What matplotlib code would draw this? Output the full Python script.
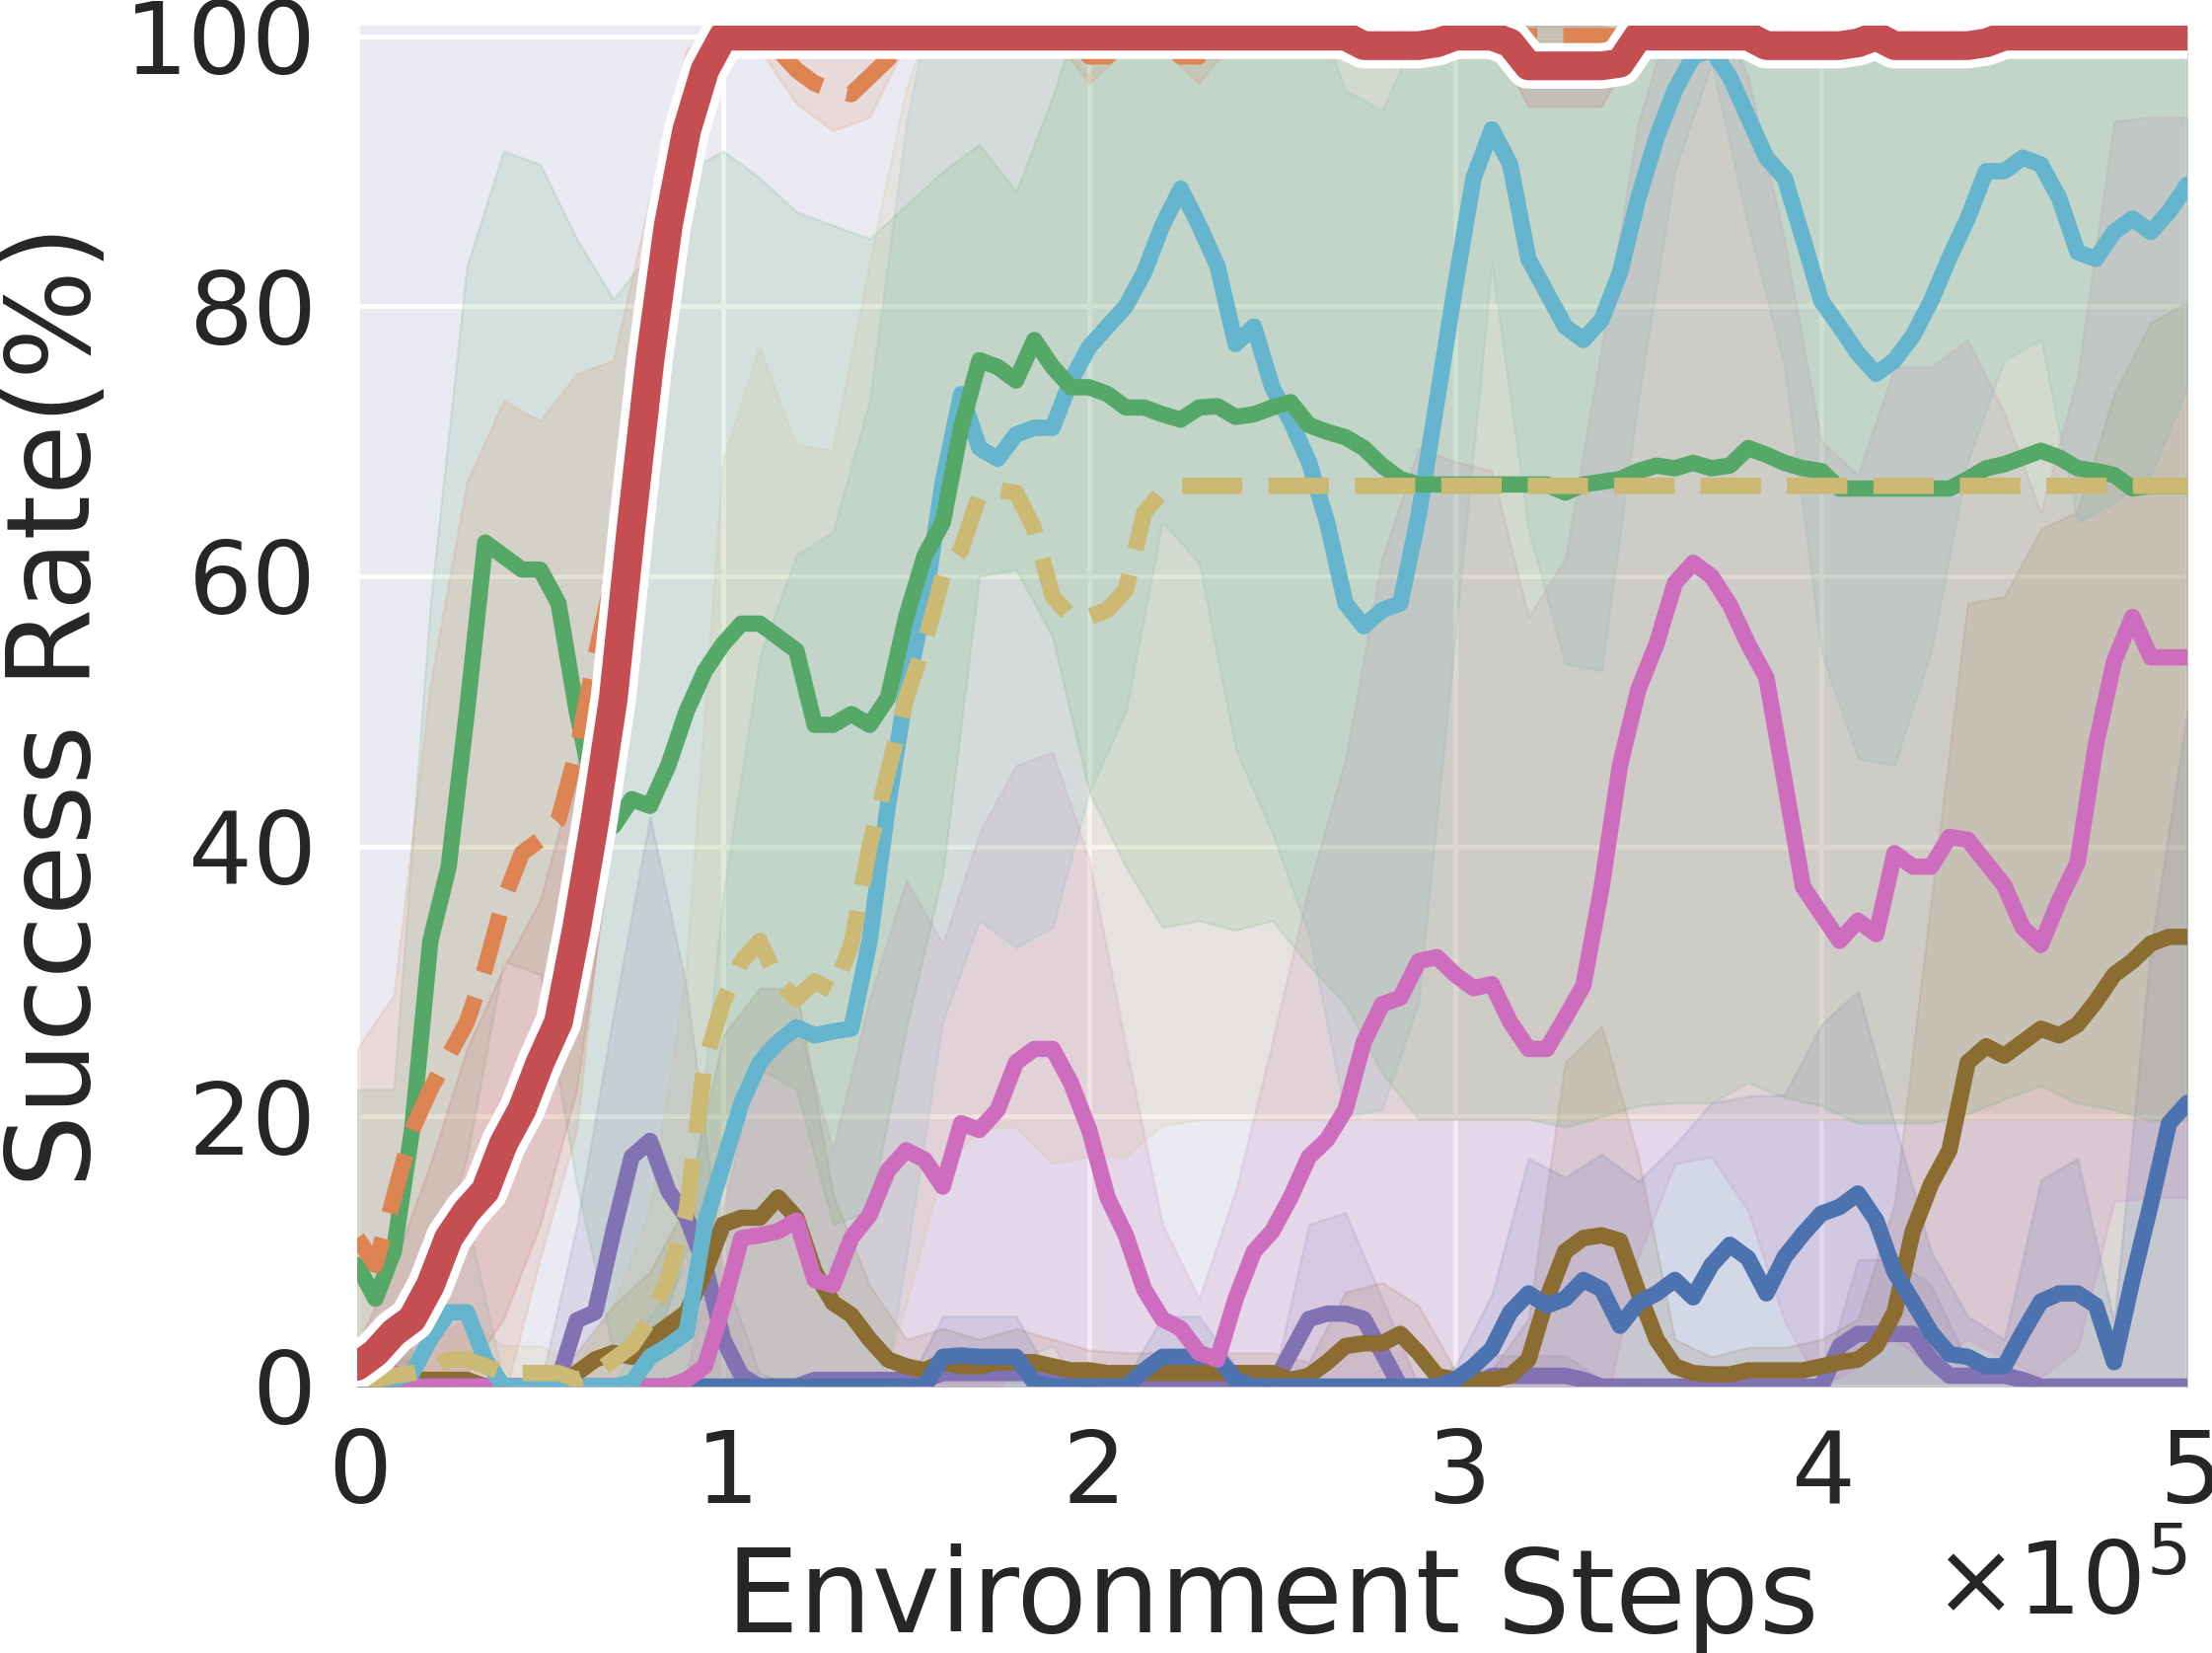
import numpy as np
import matplotlib
matplotlib.use('Agg')
import matplotlib.pyplot as plt
from matplotlib import patheffects as pe
import seaborn as sns

# smoothed success-rate curves, one value every 5k env steps (0 .. 500k)
steps = np.linspace(0, 5e5, 101)
# spread (std) of each curve, read every 10k env steps
band_steps = steps[::2]

blue_mean = [
    0, 0, 0, 0, 0, 0, 0, 0, 0, 0,
    0, 0, 0, 0, 0, 0, 0, 0, 0, 0,
    0, 0, 0, 0, 0, 0, 0, 0, 0, 0,
    0, 0, 2.2, 2.3, 2.2, 2.2, 2.2, 0.3, 0, 0,
    0, 0, 0, 1.2, 2.2, 2.2, 2.2, 2.2, 0.5, 0,
    0, 0, 0, 0, 0, 0, 0, 0, 0, 0,
    0.5, 1.5, 2.8, 5.5, 6.9, 6, 6.5, 7.9, 7.2, 4.5,
    6.2, 6.9, 7.9, 6.6, 9, 10.5, 9.5, 6.9, 9.6, 11.3,
    12.8, 13.3, 14.3, 12.3, 8.5, 6.3, 4, 2.4, 2.2, 1.5,
    1.5, 4, 6.3, 6.9, 6.9, 6, 1.8, 7.9, 13.5, 19.5,
    21]
orange_mean = [
    11, 9, 14, 19, 22, 24.5, 27, 31, 36, 39.5,
    40.5, 42, 47, 54, 60, 68, 78, 87, 94, 98.5,
    100, 100, 100, 99, 97.5, 96.5, 96, 95.7, 97, 98.3,
    100, 100, 100, 100, 100, 100, 100, 100, 100, 100,
    98.5, 98.5, 100, 100, 100, 98.5, 98.5, 100, 100, 100,
    100, 100, 100, 100, 100, 100, 100, 100, 100, 100,
    100, 100, 100, 100, 100, 100, 100, 100, 100, 100,
    100, 100, 100, 100, 100, 100, 100, 100, 100, 100,
    100, 100, 100, 100, 100, 100, 100, 100, 100, 100,
    100, 100, 100, 100, 100, 100, 100, 100, 100, 100,
    100]
green_mean = [
    9, 6.5, 10, 19, 33, 38.5, 50, 62.5, 61.5, 60.5,
    60.5, 58, 50, 43.5, 41.5, 43.5, 43, 46, 50, 53,
    55, 56.5, 56.5, 55.5, 54.5, 49, 49, 49.8, 49, 51,
    57, 61.5, 64, 71, 76, 75.5, 74.5, 77.5, 75.5, 74,
    74, 73.5, 72.5, 72.5, 72, 71.6, 72.5, 72.6, 71.8, 72,
    72.5, 72.9, 71.2, 70.7, 70.3, 69.5, 68.2, 67.2, 66.8, 66.8,
    66.8, 66.8, 66.8, 66.8, 66.8, 66.8, 66.2, 66.8, 67, 67.2,
    67.8, 68.2, 68, 68.4, 68, 68.2, 69.5, 69, 68.4, 68,
    67.8, 66.5, 66.5, 66.5, 66.5, 66.5, 66.5, 66.5, 67.2, 68,
    68.3, 68.8, 69.3, 68.8, 68, 67.8, 67.5, 66.5, 66.7, 66.7,
    66.7]
red_mean = [
    1.5, 2.5, 4, 5, 7.5, 11, 13, 14.5, 18, 20.5,
    24, 27, 34, 42, 51, 64, 76, 86, 93, 97.5,
    100, 100, 100, 100, 100, 100, 100, 100, 100, 100,
    100, 100, 100, 100, 100, 100, 100, 100, 100, 100,
    100, 100, 100, 100, 100, 100, 100, 100, 100, 100,
    100, 100, 100, 100, 100, 99.3, 99.3, 99.3, 99.3, 99.5,
    100, 100, 100, 99.5, 97.8, 97.8, 97.8, 97.8, 97.8, 98,
    100, 100, 100, 100, 100, 100, 100, 99.3, 99.3, 99.3,
    99.3, 99.3, 99.5, 100, 99.3, 99.3, 99.3, 99.3, 99.3, 99.5,
    100, 100, 100, 100, 100, 100, 100, 100, 100, 100,
    100]
purple_mean = [
    0, 0.5, 0.5, 0, 0, 0, 0, 0, 0, 0,
    0, 0.5, 4.9, 5.5, 11.5, 17, 18.2, 14.5, 12.5, 9,
    3.5, 0.8, 0, 0, 0, 0.5, 0.5, 0.5, 0.5, 0.5,
    0.5, 0.5, 1, 1, 1, 1, 1, 1, 0.5, 0.5,
    0.5, 0.5, 0.5, 0.5, 0.5, 0.5, 0.5, 0.5, 0.3, 0,
    0, 2.5, 5, 5.4, 5.4, 5, 2.5, 0, 0, 0,
    0, 0, 0.8, 0.8, 0.8, 0.8, 0.8, 0.5, 0, 0,
    0, 0, 0, 0, 0, 0, 0, 0, 0, 0,
    0, 3, 3.9, 3.9, 3.9, 3.9, 2, 0.8, 0.8, 0.8,
    0.8, 0.5, 0, 0, 0, 0, 0, 0, 0, 0,
    0]
brown_mean = [
    0, 0, 0.5, 0.5, 0.5, 0.5, 0.5, 0, 0, 0,
    0, 0, 1, 2, 2.5, 2.2, 3.5, 4.5, 5.5, 8.5,
    12, 12.5, 12.5, 14, 12.5, 8.5, 6.2, 5.3, 3.5, 2,
    1.5, 1.2, 1.8, 1.5, 1.5, 1.8, 1.8, 1.8, 1.5, 1.2,
    1.2, 1, 1, 1, 1, 1, 1, 1, 1, 1,
    1, 0.5, 0.8, 1.8, 3, 3.2, 3.2, 3.9, 2.5, 0.8,
    0.5, 0.5, 0.5, 0.8, 2, 6.5, 10, 11, 11.2, 10.8,
    7, 3.5, 1.5, 1, 0.9, 0.9, 1.2, 1.2, 1.2, 1.2,
    1.5, 1.8, 2, 3, 5.5, 11.5, 15, 17.5, 24, 25.2,
    24.5, 25.5, 26.5, 26, 26.8, 28.5, 30.5, 31.5, 32.8, 33.3,
    33.3]
pink_mean = [
    0, 1.5, 1, 0, 0, 0, 0, 0, 0, 0,
    0, 0, 0, 0, 0, 0, 0, 0, 0.5, 1.5,
    6, 11, 11.2, 11.5, 12.3, 7.9, 7.5, 11, 12.7, 16,
    17.5, 16.8, 14.8, 19.5, 19, 20.5, 24, 25, 25, 22.5,
    19, 14, 11.2, 7.2, 5, 4.3, 2.5, 2, 6.5, 10,
    11.5, 14, 17, 18.3, 20.5, 25.5, 28.3, 28.8, 31.5, 31.8,
    30.5, 29.5, 29.8, 27, 25, 25, 27.3, 29.7, 37, 46,
    51.6, 55, 59.5, 61, 60, 57.9, 55, 52.5, 44.8, 37,
    35, 33, 34.5, 33.5, 39.5, 38.5, 38.5, 40.7, 40.5, 38.8,
    37.1, 34, 32.7, 36, 38.8, 47.5, 53.7, 57, 54, 54,
    54]
olive_mean = [
    0, 0.5, 0.8, 1, 1.2, 2, 2, 1.5, 1, 1,
    1, 1, 0.5, 1, 2, 3, 5, 8, 13, 24,
    28.5, 31.5, 33, 30, 28.7, 30, 29.3, 32.7, 40, 45.5,
    51, 55, 60, 62, 66, 66.4, 66.2, 63.5, 58.5, 57,
    57, 57.5, 59, 64.7, 66.3, 66.7, 66.7, 66.7, 66.7, 66.7,
    66.7, 66.7, 66.7, 66.7, 66.7, 66.7, 66.7, 66.7, 66.7, 66.7,
    66.7, 66.7, 66.7, 66.7, 66.7, 66.7, 66.7, 66.7, 66.7, 66.7,
    66.7, 66.7, 66.7, 66.7, 66.7, 66.7, 66.7, 66.7, 66.7, 66.7,
    66.7, 66.7, 66.7, 66.7, 66.7, 66.7, 66.7, 66.7, 66.7, 66.7,
    66.7, 66.7, 66.7, 66.7, 66.7, 66.7, 66.7, 66.7, 66.7, 66.7,
    66.7]
cyan_mean = [
    0, 0, 0.5, 1, 3.5, 5.5, 5.5, 2, 0, 0,
    0, 0, 0, 0, 0, 0.3, 2.2, 3, 4, 12,
    16.5, 21, 24, 25.5, 26.6, 26, 26.3, 26.5, 33, 43,
    51.5, 58, 67, 73.5, 69.5, 68.7, 70.5, 71, 71, 74.5,
    77, 78.5, 80, 82.5, 86, 88.7, 86, 83, 77.2, 78.5,
    74, 71.5, 68.5, 64, 58, 56.3, 57.5, 58, 64.5, 73,
    81.5, 89.5, 93.1, 90.5, 83.5, 81, 78.5, 77.5, 79, 82.5,
    88, 92.5, 96, 98.5, 99, 97, 94, 91, 89.5, 85,
    80.4, 78.5, 76.5, 75, 76, 77.8, 80.4, 83.6, 86.5, 90,
    90, 91, 90.5, 88, 84, 83.5, 85.5, 86.5, 85.5, 87,
    89]

blue_sd = [
    0, 0, 0, 0, 0, 0, 0, 0, 0, 0,
    0, 0, 0, 0, 0, 0, 3, 3, 3, 0.5,
    0, 0.5, 3, 3, 1, 0, 0, 0, 0, 0,
    1, 4, 10, 9, 10, 9, 10, 12, 12, 12,
    14, 15, 11, 6, 3, 2, 9, 10, 3, 19,
    29]
orange_sd = [
    14, 15, 30, 40, 37, 31, 28, 16, 10, 5,
    1, 1, 2.5, 3, 3, 0.5, 0, 0, 0, 0,
    2, 1, 1, 2, 0, 0, 0, 0, 0, 0,
    0, 0, 0, 0, 0, 0, 0, 0, 0, 0,
    0, 0, 0, 0, 0, 0, 0, 0, 0, 0,
    0]
green_sd = [
    13, 12, 25, 33, 30, 30, 35, 39, 41, 40,
    36.5, 33, 32.5, 37, 36, 30.5, 26, 16, 14, 20,
    30, 34, 38, 38, 38, 38, 40, 42, 45, 47,
    47, 47, 47, 47, 47, 47, 47, 47, 47, 47,
    47, 47, 47, 47, 47, 47, 47, 47, 47, 47,
    47]
red_sd = [
    1.5, 5, 9, 12, 13, 12, 12, 10, 7, 4,
    0.5, 0, 0, 0, 0, 0, 0, 0, 0, 0,
    0, 0, 0, 0, 0, 0, 0, 0, 1, 1,
    0, 0, 3, 3, 3, 0, 0, 0, 0, 1,
    1, 1, 1, 1, 1, 0, 0, 0, 0, 0,
    0]
purple_sd = [
    0, 0.5, 0, 0, 0, 0, 7, 16, 24, 17,
    5, 1, 0, 0.5, 0.5, 0.5, 1, 1, 1, 0.5,
    0.5, 0.5, 0.5, 0.5, 0.3, 0, 7, 7.5, 4, 0,
    0, 1.5, 1.5, 1.5, 0.5, 0, 0, 0, 0, 0,
    0, 5.5, 5.5, 5.5, 1, 1, 0, 0, 0, 0,
    0]
brown_sd = [
    0, 0.5, 0.5, 0.5, 0, 0, 1.5, 3.5, 5, 8,
    14, 17, 17, 8, 4, 2, 2.5, 2, 2.5, 2,
    1.5, 1.5, 1.5, 1.5, 1.5, 1.5, 1, 4, 4.5, 3.5,
    0.7, 0.7, 3, 14, 15.5, 10, 2, 1.3, 1.7, 1.7,
    2, 3, 8, 21, 34, 34, 37, 38, 43, 46,
    47]
pink_sd = [
    0, 2, 0, 0, 0, 0, 0, 0, 0, 0.5,
    7, 14, 15, 10, 16, 20, 18, 22, 22, 22,
    20, 14, 7, 4, 8, 14, 20, 26, 33, 38,
    38, 38, 32, 34, 40, 42, 43, 43, 42, 40,
    35, 33, 36, 37, 37, 35, 32, 36, 40, 40,
    40]
olive_sd = [
    0.5, 1, 2, 3, 2, 2, 1, 4, 8, 18,
    40, 44, 41, 40, 43, 45, 44, 47, 47, 42,
    40, 42, 47, 47, 47, 47, 47, 47, 47, 47,
    47, 47, 47, 47, 47, 47, 47, 47, 47, 47,
    47, 47, 47, 47, 47, 47, 47, 47, 47, 47,
    47]
cyan_sd = [
    0, 1, 5, 7, 0.5, 0, 0, 0, 3, 5,
    20, 30, 35, 37, 40, 42, 40, 35, 38, 37,
    33, 30, 22, 25, 30, 33, 35, 38, 37, 36,
    26, 10, 20, 25, 26, 15, 6, 1, 8, 14,
    26, 30, 30, 26, 18, 14, 13, 20, 20, 18,
    15]

sns.set_style('darkgrid')
plt.rcParams['font.family'] = ['DejaVu Sans']

fig, ax = plt.subplots(figsize=(2242 / 350, 1675 / 350), dpi=350)
fig.subplots_adjust(left=362 / 2242, right=2217 / 2242,
                    bottom=1 - 1405 / 1675, top=1 - 25.7 / 1675)

# drawing order, bottom to top: (mean, sd, colour, linestyle)
curves = [
    (purple_mean, purple_sd, '#8172B3', '-'),
    (brown_mean, brown_sd, '#8C6D31', '-'),
    (blue_mean, blue_sd, '#4C72B0', '-'),
    (pink_mean, pink_sd, '#CE6DBD', '-'),
    (cyan_mean, cyan_sd, '#64B5CD', '-'),
    (green_mean, green_sd, '#55A868', '-'),
    (olive_mean, olive_sd, '#CCB974', '--'),
    (orange_mean, orange_sd, '#DD8452', '--'),
]

# shaded spread first, lines on top
for mean, sd, color, ls in curves + [(red_mean, red_sd, '#C44E52', '-')]:
    m = np.asarray(mean)[::2]
    s = np.asarray(sd)
    ax.fill_between(band_steps, m - s, m + s, color=color, alpha=0.15,
                    linewidth=0.5, zorder=1)

for i, (mean, sd, color, ls) in enumerate(curves):
    ax.plot(steps, mean, color=color, linestyle=ls, linewidth=3.4,
            solid_capstyle='round', zorder=3 + i)

# the proposed method: thick red with white outline
ax.plot(steps, red_mean, color='#C44E52', linewidth=6.0,
        solid_capstyle='round', zorder=20,
        path_effects=[pe.Stroke(linewidth=9.5, foreground='white'),
                      pe.Normal()])

ax.set_xlim(0, 5e5)
ax.set_ylim(0, 100.8)
ax.set_yticks([0, 20, 40, 60, 80, 100])
ax.ticklabel_format(axis='x', style='sci', scilimits=(0, 0), useMathText=True)
ax.tick_params(labelsize=21, pad=8.5, length=0, colors='#262626')
ax.xaxis.get_offset_text().set_fontsize(21)
ax.grid(True, color='white', linewidth=1.0)
for sp in ax.spines.values():
    sp.set_visible(False)

ax.set_xlabel('Environment Steps', fontsize=24, color='#262626')
ax.set_ylabel('Success Rate(%)', fontsize=24, color='#262626', labelpad=2)

fig.savefig('out.png', dpi=350)
